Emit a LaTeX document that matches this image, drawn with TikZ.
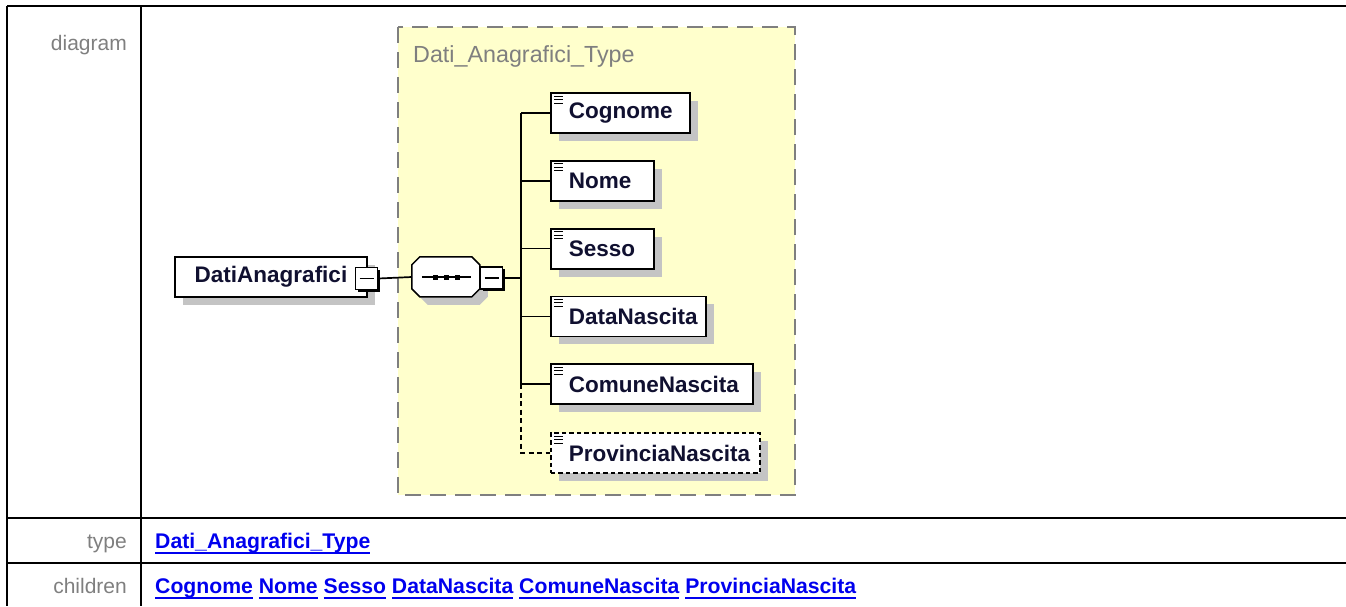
\documentclass[tikz,border=0pt]{standalone}
\usepackage{fontspec}
\setmainfont{Liberation Sans}
\usetikzlibrary{positioning,shadows}
\definecolor{typeyellow}{HTML}{FFFFCC}
\definecolor{labelgray}{HTML}{7F7F7F}
\definecolor{linkblue}{HTML}{0000EE}
\definecolor{elemnavy}{HTML}{101030}
\definecolor{shadowgray}{HTML}{C4C4C4}
\newcommand{\lnk}[1]{\setbox0\hbox{#1}\rlap{\rule[-5.5pt]{\wd0}{2pt}}\box0\relax}

\begin{document}
\begin{tikzpicture}[x=1pt,y=-1pt,
  rowlabel/.style={font=\fontsize{21}{25}\selectfont,text=labelgray,anchor=base east,inner sep=0pt},
  rowvalue/.style={font=\bfseries\fontsize{21.2}{25}\selectfont,text=linkblue,anchor=base west,inner sep=0pt},
  elem/.style={draw,line width=1.8pt,fill=white,minimum height=40pt,inner sep=0pt,
    font=\bfseries\fontsize{22.5}{26}\selectfont,text=elemnavy,
    drop shadow={shadow xshift=8pt,shadow yshift=-8pt,fill=shadowgray,opacity=1}},
  child/.style={elem,align=left,anchor=west,
    path picture={\foreach \k in {0,1,2}
      \draw[solid,line width=0.9pt] ([xshift=3.5pt,yshift={-(3+3.5*\k)*1pt}]path picture bounding box.north west) -- ++(9pt,0pt);}},
  optchild/.style={child,dash pattern=on 4.5pt off 3pt},
  minusbox/.style={draw,line width=1.6pt,fill=white,minimum size=22pt,inner sep=0pt,
    drop shadow={shadow xshift=2.2pt,shadow yshift=-2.2pt,fill=black,opacity=1},
    path picture={\draw[line width=1.8pt] ([xshift=4pt]path picture bounding box.west) -- ([xshift=-4pt]path picture bounding box.east);}},
  seqbox/.style={minimum width=68pt,minimum height=40pt,inner sep=0pt},
  conn/.style={line width=1.7pt},
  optconn/.style={conn,dash pattern=on 5pt off 3.5pt},
  typebox/.style={draw=labelgray,fill=typeyellow,line width=2pt,dash pattern=on 16pt off 9pt}]
  \useasboundingbox (0,0) rectangle (1346,606);

  % table frame
  \draw[line width=2pt] (7,5.5) -- (1346,5.5);
  \draw[line width=2pt] (7,5.5) -- (7,606);
  \draw[line width=2pt] (141,5.5) -- (141,606);
  \draw[line width=2pt] (7,517.5) -- (1346,517.5);
  \draw[line width=2pt] (7,562.5) -- (1346,562.5);

  \node[rowlabel] (lbldiagram) at (127,50) {diagram};
  \node[rowlabel] (lbltype) at (127,548) {type};
  \node[rowlabel] (lblchildren) at (127,593) {children};
  \node[rowvalue] (valtype) at (155,548) {\lnk{Dati\_Anagrafici\_Type}};
  \node[rowvalue] (valchildren) at (155,593) {\lnk{Cognome} \lnk{Nome} \lnk{Sesso} \lnk{DataNascita} \lnk{ComuneNascita} \lnk{ProvinciaNascita}};

  % complex type
  \draw[typebox] (398,27) rectangle (795,495);
  \node[font=\fontsize{23.3}{27}\selectfont,text=labelgray,anchor=base west,inner sep=0pt] (typename) at (413,62) {Dati\_Anagrafici\_Type};

  \node[elem,minimum width=192pt] (dati) at (271,277) {DatiAnagrafici};
  \node[minusbox] (datiminus) at (366.5,278.5) {};

  % sequence compositor
  \node[seqbox] (seq) at (446,277) {};
  \fill[shadowgray] ([xshift=8pt,yshift=-8pt]seq.north west) ++(8pt,0pt) -- ++(52pt,0pt) -- ++(8pt,-8pt) -- ++(0pt,-24pt)
    -- ++(-8pt,-8pt) -- ++(-52pt,0pt) -- ++(-8pt,8pt) -- ++(0pt,24pt) -- cycle;
  \draw[line width=1.5pt,fill=white] (seq.north west) ++(8pt,0pt) -- ++(52pt,0pt) -- ++(8pt,-8pt) -- ++(0pt,-24pt)
    -- ++(-8pt,-8pt) -- ++(-52pt,0pt) -- ++(-8pt,8pt) -- ++(0pt,24pt) -- cycle;
  \draw[conn] ([xshift=10pt]seq.west) -- ([xshift=-9pt]seq.east);
  \foreach \dx in {-11,0,11}
    \fill ([xshift=\dx pt]seq.center) +(-2.5pt,-2.5pt) rectangle +(2.5pt,2.5pt);
  \node[minusbox] (seqminus) at (491.5,278) {};

  \node[child,text width=139pt] (cognome) at (550,113) {\hspace*{18pt}Cognome};
  \node[child,text width=103pt,below=26pt of cognome.south west,anchor=north west] (nome) {\hspace*{18pt}Nome};
  \node[child,text width=103pt,below=26pt of nome.south west,anchor=north west] (sesso) {\hspace*{18pt}Sesso};
  \node[child,text width=155pt,below=26pt of sesso.south west,anchor=north west] (datanascita) {\hspace*{18pt}DataNascita};
  \node[child,text width=202pt,below=26pt of datanascita.south west,anchor=north west] (comune) {\hspace*{18pt}ComuneNascita};
  \node[optchild,text width=209pt,below=27pt of comune.south west,anchor=north west] (provincia) {\hspace*{18pt}ProvinciaNascita};

  \coordinate (spine) at (521,278);
  \draw[conn] (datiminus.east) -- (seq.west);
  \draw[conn] (seqminus.east) -- (spine);
  \draw[conn] (spine |- cognome.west) -- (spine |- comune.west);
  \foreach \c in {cognome,nome,sesso,datanascita,comune}
    \draw[conn] (spine |- \c.west) -- (\c.west);
  \draw[optconn] (spine |- comune.west) -- (spine |- provincia.west) -- (provincia.west);
\end{tikzpicture}
\end{document}
